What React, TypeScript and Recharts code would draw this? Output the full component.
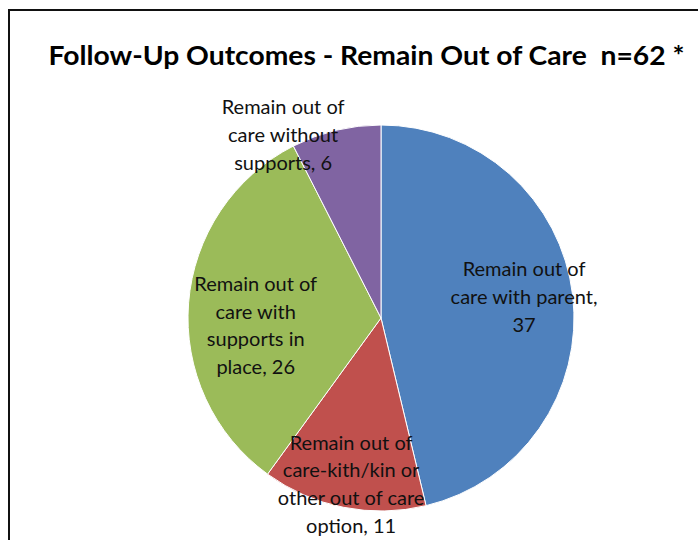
import React from "react";
import { PieChart, Pie, Cell, Customized } from "recharts";

const categories = [
  "Remain out of care with parent",
  "Remain out of care-kith/kin or other out of care option",
  "Remain out of care with supports in place",
  "Remain out of care without supports",
];
const values = [37, 11, 26, 6];
const labelLines = [
  ["Remain out of", "care with parent,", "37"],
  ["Remain out of", "care-kith/kin or", "other out of care", "option, 11"],
  ["Remain out of", "care with", "supports in", "place, 26"],
  ["Remain out of", "care without", "supports, 6"],
];
const title = "Follow-Up Outcomes - Remain Out of Care  n=62 *";

const colors = ["#4F81BD", "#C0504D", "#9BBB59", "#8064A2"];
// label placement: radius factor and angle nudge (degrees) relative to slice midAngle
const labelPlace = [
  { r: 0.75, nudge: 2 },
  { r: 0.87, nudge: 1 },
  { r: 0.65, nudge: 7.5 },
  { r: 1.08, nudge: 14.5 },
];

const data = categories.map((name, i) => ({ name, value: values[i] }));
const FONT = "Lato, 'Open Sans', sans-serif";
const RAD = Math.PI / 180;

const renderLabel = (props: any) => {
  const { cx, cy, midAngle, outerRadius, index } = props;
  const p = labelPlace[index];
  const a = (midAngle + p.nudge) * RAD;
  const x = cx + outerRadius * p.r * Math.cos(a);
  const y = cy - outerRadius * p.r * Math.sin(a);
  const lines = labelLines[index];
  const lh = 27.6;
  const y0 = y - ((lines.length - 1) * lh) / 2;
  return (
    <text
      key={"lbl" + index}
      x={x}
      y={y0}
      textAnchor="middle"
      dominantBaseline="central"
      fontFamily={FONT}
      fontSize={20}
      fill="#111"
    >
      {lines.map((l, k) => (
        <tspan key={k} x={x} y={y0 + k * lh}>
          {l}
        </tspan>
      ))}
    </text>
  );
};

const Title = () => (
  <text
    x={366.5}
    y={65}
    textAnchor="middle"
    fontFamily={FONT}
    fontWeight="bold"
    fontSize={27}
    fill="#000"
    textLength={636}
    lengthAdjust="spacingAndGlyphs"
    style={{ whiteSpace: "pre" }}
    xmlSpace="preserve"
  >
    {title}
  </text>
);

export default function App() {
  return (
    <div style={{ position: "absolute", left: 0, top: 0, width: 698, height: 540, background: "#fff", overflow: "hidden" }}>
      <div
        style={{
          position: "absolute",
          left: 8,
          top: 9,
          width: 720,
          height: 560,
          borderLeft: "2px solid #111",
          borderTop: "2px solid #111",
        }}
      />
      <div style={{ position: "absolute", left: 0, top: 0 }}>
        <PieChart width={698} height={540} margin={{ top: 0, right: 0, bottom: 0, left: 0 }}>
          <Customized component={Title} />
          <Pie
            data={data}
            dataKey="value"
            nameKey="name"
            cx={381}
            cy={318}
            outerRadius={193}
            startAngle={90}
            endAngle={-270}
            stroke="#fff"
            strokeWidth={1}
            label={renderLabel}
            labelLine={false}
            isAnimationActive={false}
          >
            {data.map((d, i) => (
              <Cell key={i} fill={colors[i]} />
            ))}
          </Pie>
        </PieChart>
      </div>
    </div>
  );
}
